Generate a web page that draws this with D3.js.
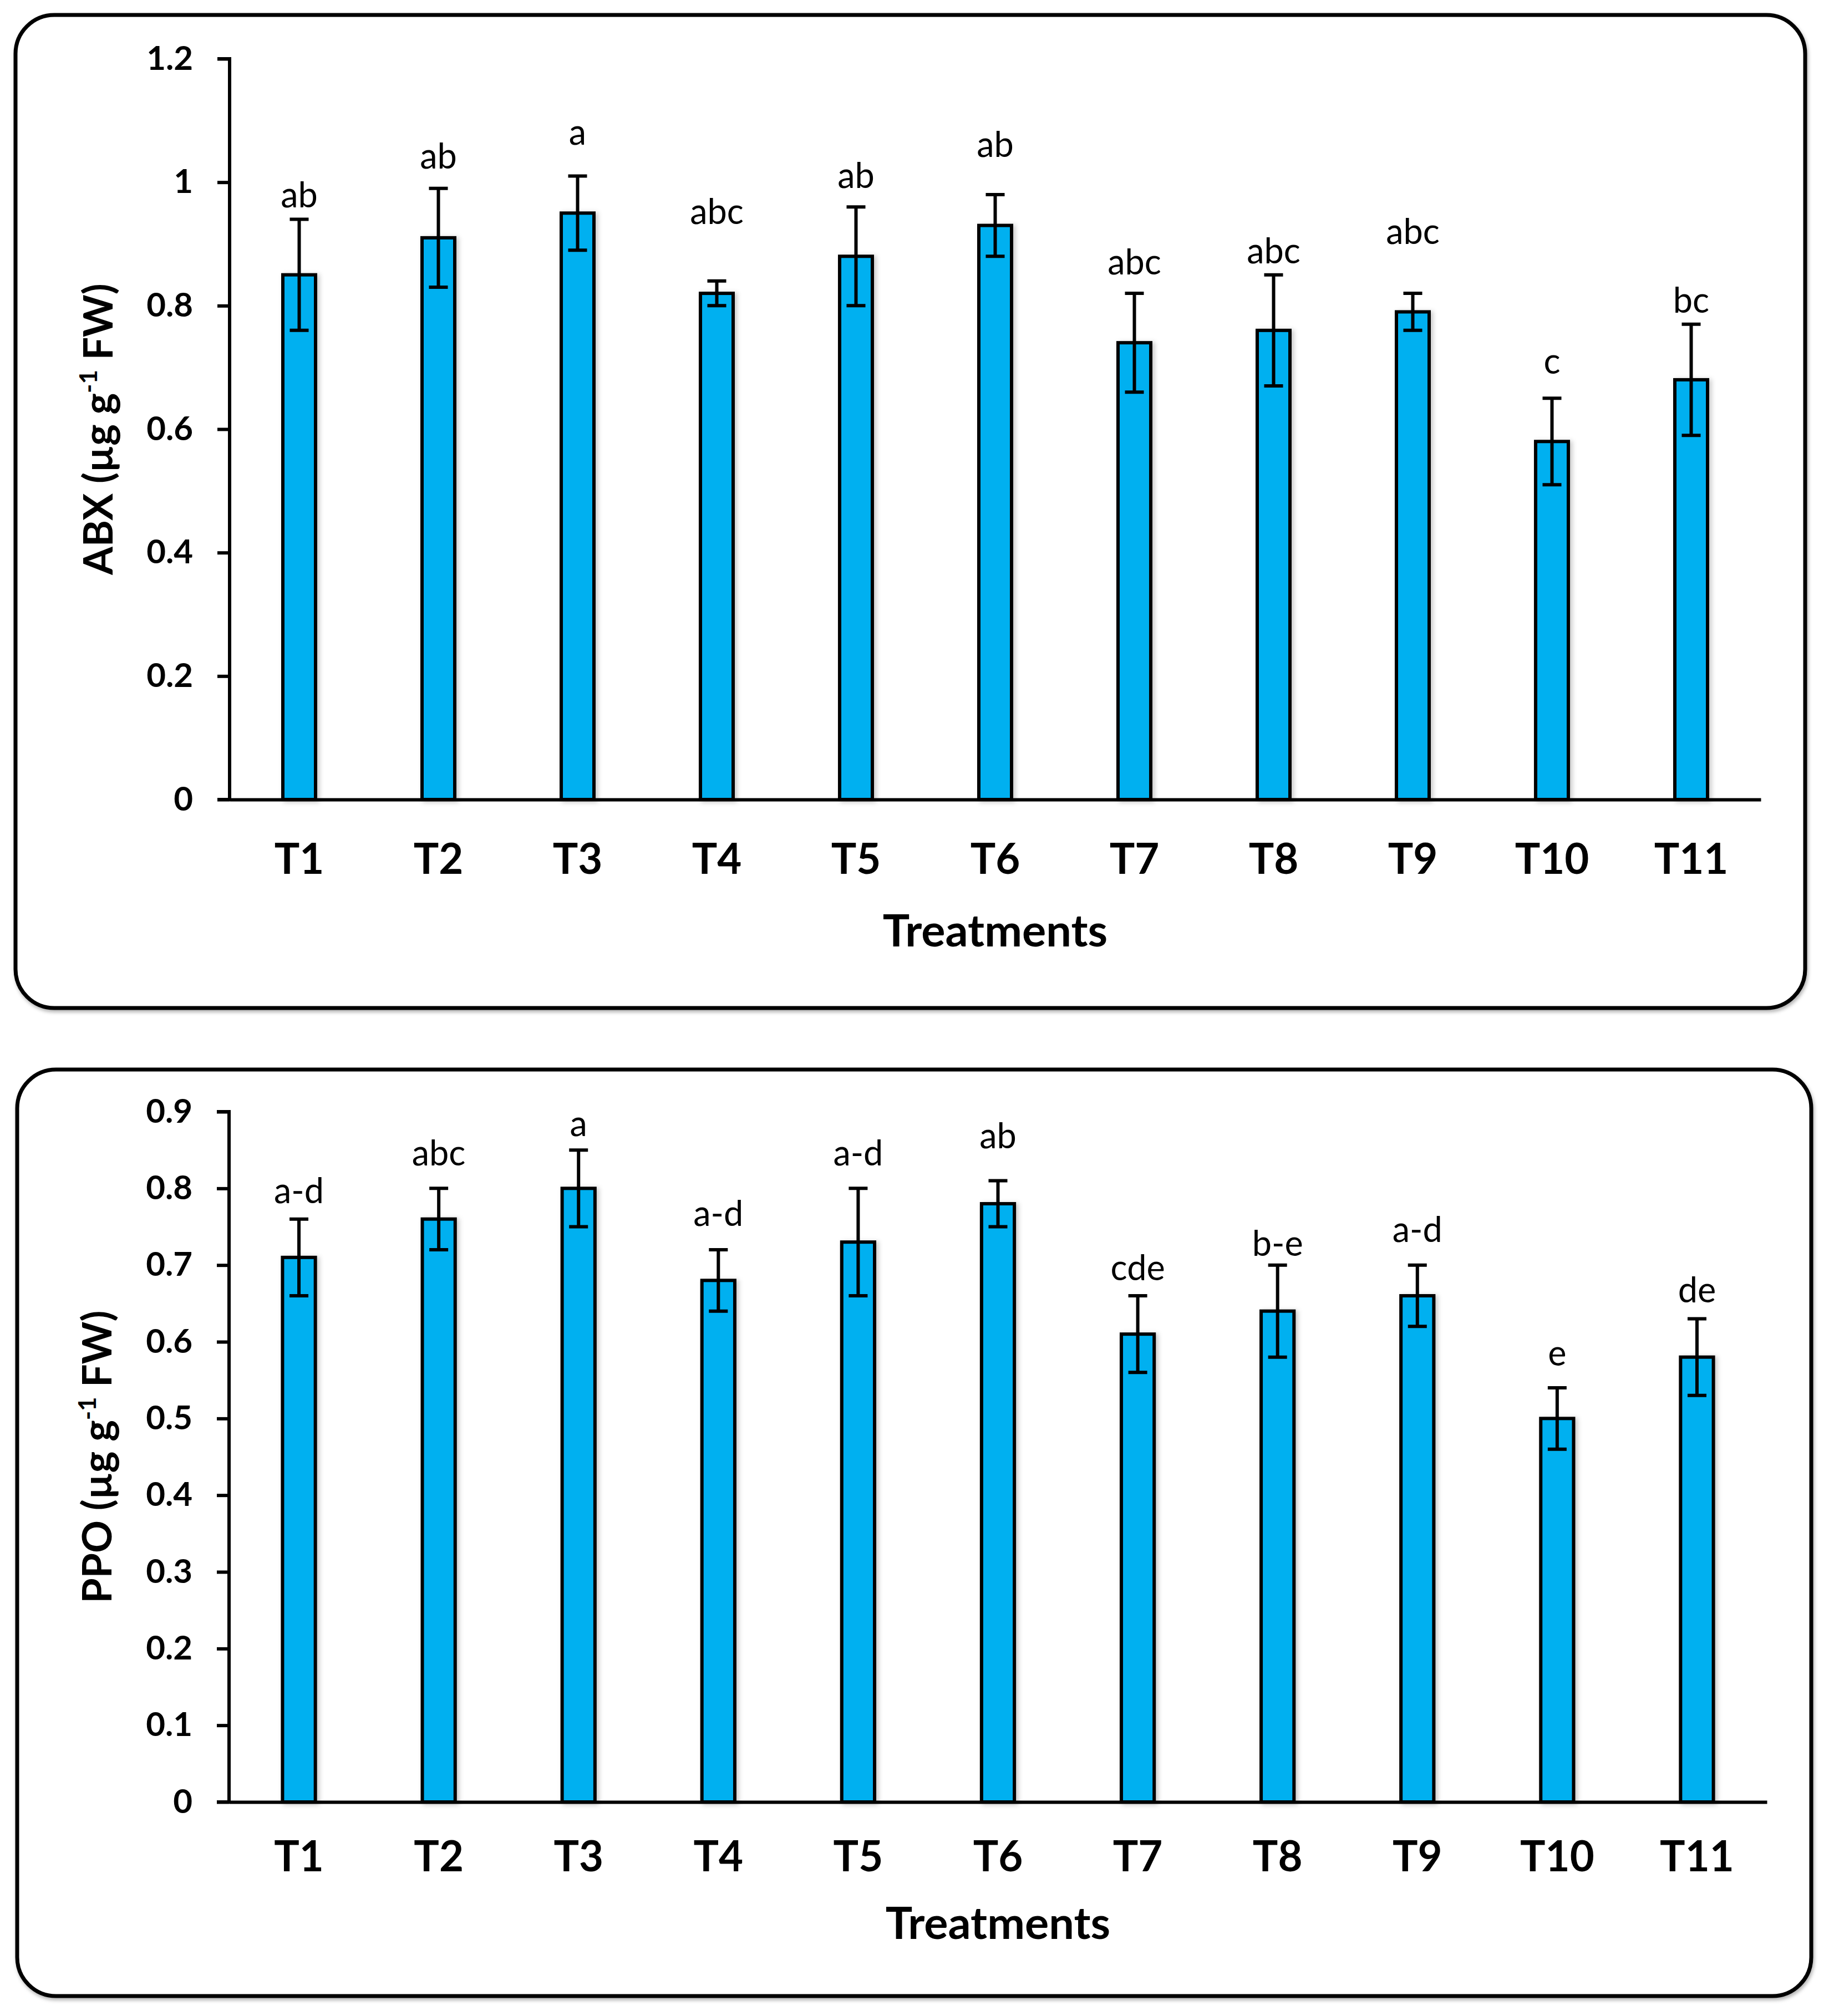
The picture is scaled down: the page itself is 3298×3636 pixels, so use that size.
<!DOCTYPE html>
<html>
<head>
<meta charset="utf-8">
<script src="https://cdn.jsdelivr.net/npm/d3@7"></script>
<style>
  body { margin: 0; background: #fff; }
  svg { display: block; font-family: Lato, "Open Sans", sans-serif; }
</style>
</head>
<body>
<div id="chart"></div>
<script>
// categories
const treatments = ["T1", "T2", "T3", "T4", "T5", "T6", "T7", "T8", "T9", "T10", "T11"];

// ABX panel
const abxMean = [0.85, 0.91, 0.95, 0.82, 0.88, 0.93, 0.74, 0.76, 0.79, 0.58, 0.68];
const abxErr = [0.09, 0.08, 0.06, 0.02, 0.08, 0.05, 0.08, 0.09, 0.03, 0.07, 0.09];
const abxLetters = ["ab", "ab", "a", "abc", "ab", "ab", "abc", "abc", "abc", "c", "bc"];
const abxLetterAt = [0.959, 1.022, 1.061, 0.932, 0.991, 1.041, 0.851, 0.869, 0.900, 0.690, 0.789];
const abxTicks = [0, 0.2, 0.4, 0.6, 0.8, 1, 1.2];

// PPO panel
const ppoMean = [0.71, 0.76, 0.80, 0.68, 0.73, 0.78, 0.61, 0.64, 0.66, 0.50, 0.58];
const ppoErr = [0.05, 0.04, 0.05, 0.04, 0.07, 0.03, 0.05, 0.06, 0.04, 0.04, 0.05];
const ppoLetters = ["a-d", "abc", "a", "a-d", "a-d", "ab", "cde", "b-e", "a-d", "e", "de"];
const ppoLetterAt = [0.781, 0.830, 0.868, 0.751, 0.830, 0.852, 0.680, 0.712, 0.730, 0.569, 0.651];
const ppoTicks = [0, 0.1, 0.2, 0.3, 0.4, 0.5, 0.6, 0.7, 0.8, 0.9];

const W = 3298, H = 3636;
const barColor = "#00B0F0";

const svg = d3.select("#chart")
  .append("svg")
    .attr("width", W)
    .attr("height", H);

// soft excel-like shadows
const defs = svg.append("defs");
defs.append("filter").attr("id", "barShadow")
    .attr("x", "-30%").attr("y", "-5%").attr("width", "160%").attr("height", "110%")
  .append("feDropShadow")
    .attr("dx", 4).attr("dy", 2).attr("stdDeviation", 4)
    .attr("flood-color", "#000").attr("flood-opacity", 0.22);
defs.append("filter").attr("id", "boxShadow")
    .attr("x", "-2%").attr("y", "-2%").attr("width", "104%").attr("height", "104%")
  .append("feDropShadow")
    .attr("dx", 2).attr("dy", 4).attr("stdDeviation", 3)
    .attr("flood-color", "#000").attr("flood-opacity", 0.3);

function drawPanel(p) {
  // rounded frame
  svg.append("rect")
    .attr("x", p.box[0]).attr("y", p.box[1])
    .attr("width", p.box[2] - p.box[0]).attr("height", p.box[3] - p.box[1])
    .attr("rx", 70).attr("ry", 70)
    .attr("fill", "#fff")
    .attr("stroke", "#000")
    .attr("stroke-width", 7)
    .attr("filter", "url(#boxShadow)");

  const g = svg.append("g");

  const x = d3.scaleBand()
      .domain(treatments)
      .range([p.left, p.right])
      .padding(0);

  const y = d3.scaleLinear()
      .domain([0, d3.max(p.ticks)])
      .range([p.zeroY, p.topY]);

  const bw = x.bandwidth() * 0.235;

  // bars
  g.append("g")
    .selectAll("rect")
    .data(p.mean)
    .join("rect")
      .attr("x", (d, i) => x(treatments[i]) + x.bandwidth() / 2 - bw / 2)
      .attr("y", d => y(d))
      .attr("width", bw)
      .attr("height", d => y(0) - y(d))
      .attr("fill", barColor)
      .attr("stroke", "#000")
      .attr("stroke-width", 6)
      .attr("filter", "url(#barShadow)");

  // error bars
  const eb = g.append("g")
    .selectAll("g")
    .data(p.mean)
    .join("g")
      .attr("transform", (d, i) => `translate(${x(treatments[i]) + x.bandwidth() / 2},0)`)
      .attr("stroke", "#000")
      .attr("stroke-width", 6);
  eb.append("line")
      .attr("x1", 0).attr("x2", 0)
      .attr("y1", (d, i) => y(d + p.err[i]))
      .attr("y2", (d, i) => y(d - p.err[i]));
  eb.append("line")
      .attr("x1", -17).attr("x2", 17)
      .attr("y1", (d, i) => y(d + p.err[i]))
      .attr("y2", (d, i) => y(d + p.err[i]));
  eb.append("line")
      .attr("x1", -17).attr("x2", 17)
      .attr("y1", (d, i) => y(d - p.err[i]))
      .attr("y2", (d, i) => y(d - p.err[i]));

  // significance letters
  g.append("g")
    .selectAll("text")
    .data(p.letters)
    .join("text")
      .attr("x", (d, i) => x(treatments[i]) + x.bandwidth() / 2)
      .attr("y", (d, i) => y(p.letterAt[i]))
      .attr("text-anchor", "middle")
      .style("font-size", "63px")
      .style("fill", "#000")
      .text(d => d);

  // y axis
  const yAxis = g.append("g")
      .attr("transform", `translate(${p.left},0)`)
      .call(d3.axisLeft(y).tickValues(p.ticks).tickFormat(d3.format("~g")).tickSize(22).tickPadding(44));
  yAxis.select(".domain").attr("stroke-width", 6).attr("d", `M-22,${y(0)}H0V${y(d3.max(p.ticks))}H-22`);
  yAxis.selectAll(".tick line").attr("stroke-width", 6);
  yAxis.selectAll(".tick text")
      .style("font-size", "60px")
      .style("font-weight", "bold")
      .style("font-family", "Lato, sans-serif")
      .attr("fill", "#000");

  // x axis (no ticks)
  const xAxis = g.append("g")
      .attr("transform", `translate(0,${p.zeroY})`)
      .call(d3.axisBottom(x).tickSize(0).tickPadding(p.catPad));
  xAxis.select(".domain").attr("stroke-width", 6);
  xAxis.selectAll(".tick text")
      .style("font-size", "76px")
      .style("font-weight", "bold")
      .style("font-family", "Lato, sans-serif")
      .attr("fill", "#000");

  // axis titles
  g.append("text")
      .attr("x", (p.left + p.right) / 2)
      .attr("y", p.zeroY + p.xTitlePad)
      .attr("text-anchor", "middle")
      .style("font-size", "81px")
      .style("font-weight", "bold")
      .text("Treatments");

  const yt = g.append("text")
      .attr("transform", `translate(${p.yTitleX},${(p.zeroY + p.topY) / 2}) rotate(-90)`)
      .attr("text-anchor", "middle")
      .style("font-size", "73px")
      .style("font-weight", "bold");
  yt.append("tspan").text(p.yName + " (µg g");
  yt.append("tspan").attr("dy", -28).style("font-size", "44px").text("-1");
  yt.append("tspan").attr("dy", 28).text(" FW)");
}

drawPanel({
  box: [28, 27, 3255, 1818],
  left: 414, right: 3175, zeroY: 1442, topY: 106,
  mean: abxMean, err: abxErr, letters: abxLetters, letterAt: abxLetterAt,
  ticks: abxTicks, yName: "ABX", yTitleX: 203, catPad: 80, xTitlePad: 265
});

drawPanel({
  box: [31, 1929, 3266, 3600],
  left: 413, right: 3186, zeroY: 3250, topY: 2005,
  mean: ppoMean, err: ppoErr, letters: ppoLetters, letterAt: ppoLetterAt,
  ticks: ppoTicks, yName: "PPO", yTitleX: 201, catPad: 71, xTitlePad: 247
});
</script>
</body>
</html>
